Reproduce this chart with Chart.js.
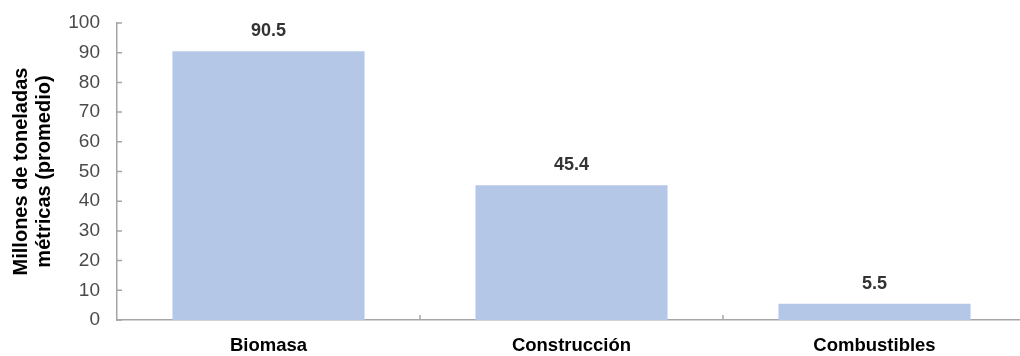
<!DOCTYPE html>
<html>
<head>
<meta charset="utf-8">
<script src="https://cdn.jsdelivr.net/npm/chart.js@4/dist/chart.umd.min.js"></script>
<style>
html, body { margin:0; padding:0; background:#fff; overflow:hidden; }
#wrap { width:1026px; height:356px; }
</style>
</head>
<body>
<div id="wrap"><canvas id="c"></canvas></div>
<script>
var categories = ['Biomasa', 'Construcción', 'Combustibles']
var values = [90.5, 45.4, 5.5]
var y_title = ['Millones de toneladas', 'métricas (promedio)']

var axis_color = '#a6a6a6'
var font_name = '"Liberation Sans", Arial, sans-serif'

// value labels above bars
var bar_labels = {
    id: 'bar_labels',
    afterDatasetsDraw: function(chart){
        var ctx = chart.ctx
        var meta = chart.getDatasetMeta(0)
        ctx.save()
        ctx.font = 'bold 18px ' + font_name
        ctx.fillStyle = '#333'
        ctx.textAlign = 'center'
        ctx.textBaseline = 'middle'
        meta.data.forEach(function(bar, i){
            ctx.fillText(values[i].toFixed(1), bar.x, bar.y - 20)
        })
        ctx.restore()
    }
}

// small tick marks pointing into the plot
var inner_ticks = {
    id: 'inner_ticks',
    afterDraw: function(chart){
        var ctx = chart.ctx
        var y = chart.scales.y
        var x = chart.scales.x
        ctx.save()
        ctx.strokeStyle = axis_color
        ctx.lineWidth = 1.5
        ctx.beginPath()
        y.ticks.forEach(function(t){
            var py = y.getPixelForValue(t.value)
            ctx.moveTo(x.left, py)
            ctx.lineTo(x.left + 5, py)
        })
        for(var i = 0; i < categories.length - 1; i++){
            var px = (x.getPixelForValue(i) + x.getPixelForValue(i+1)) / 2
            ctx.moveTo(px, y.bottom)
            ctx.lineTo(px, y.bottom - 5)
        }
        ctx.stroke()
        ctx.restore()
    }
}

new Chart(document.getElementById('c').getContext('2d'), {
    type: 'bar',
    data: {
        labels: categories,
        datasets: [{
            data: values,
            backgroundColor: '#b4c7e7',
            borderWidth: 0,
            categoryPercentage: 1,
            barPercentage: 0.634
        }]
    },
    options: {
        responsive: true,
        maintainAspectRatio: false,
        animation: false,
        layout: {padding: {top: 23, right: 0, bottom: 0, left: 0}},
        plugins: {legend: {display: false}, tooltip: {enabled: false}},
        scales: {
            x: {
                grid: {display: false, tickLength: 0},
                border: {display: true, color: axis_color, width: 1.5},
                ticks: {
                    color: '#000',
                    padding: 15,
                    font: {family: font_name, size: 18.5, weight: 'bold'}
                },
                afterFit: function(s){ s.height = 36 }
            },
            y: {
                min: 0,
                max: 100,
                grid: {display: false, tickLength: 0},
                border: {display: true, color: axis_color, width: 1.5},
                ticks: {
                    stepSize: 10,
                    color: '#4a4a4a',
                    padding: 17,
                    font: {family: font_name, size: 19}
                },
                title: {
                    display: true,
                    text: y_title,
                    color: '#000',
                    padding: {top: 10, bottom: 0},
                    font: {family: font_name, size: 20, weight: 'bold', lineHeight: 1.15}
                },
                afterFit: function(s){ s.width = 117; s.paddingTop = 0; s.paddingBottom = 0 }
            }
        }
    },
    plugins: [bar_labels, inner_ticks]
});
</script>
</body>
</html>
